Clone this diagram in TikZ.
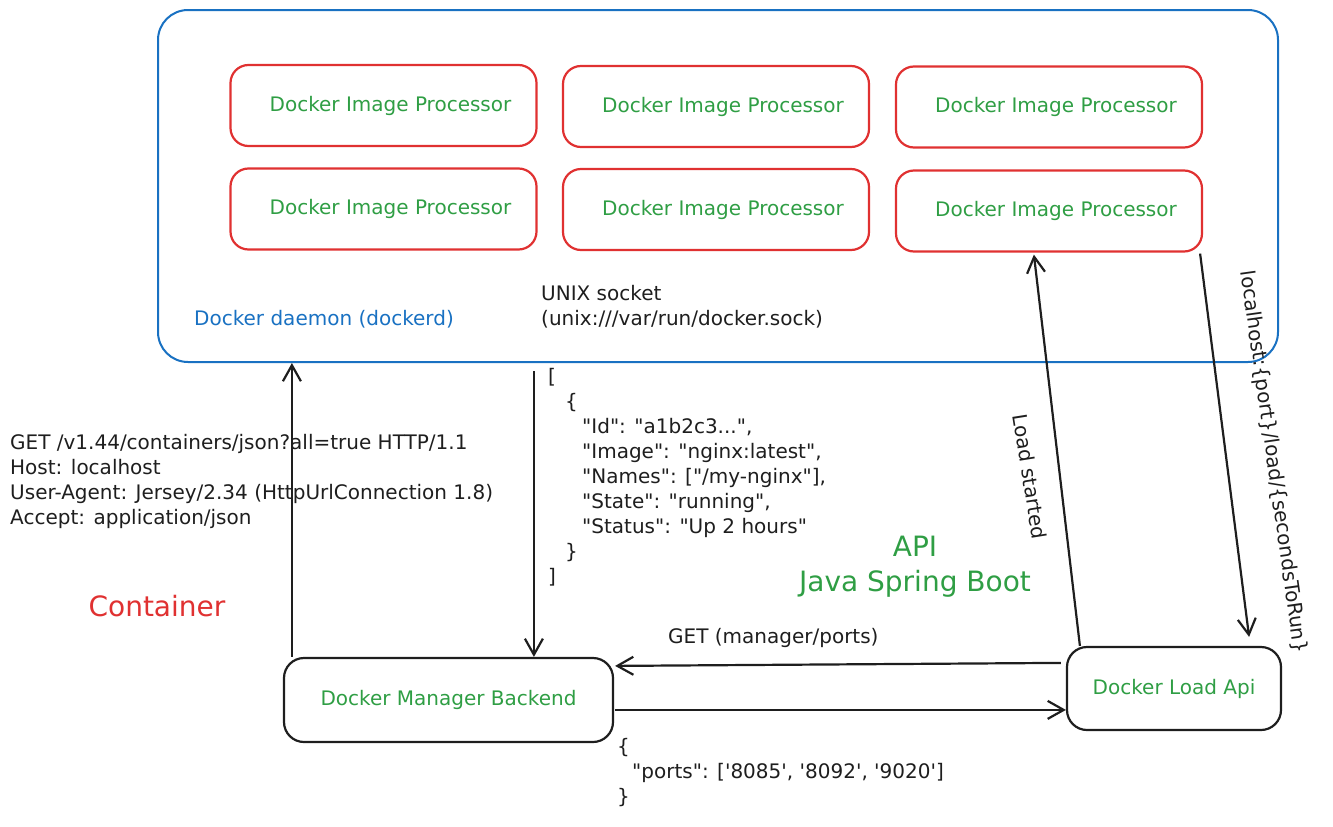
\documentclass[tikz,border=0pt]{standalone}
\usepackage{fontspec}
\newfontfamily\hand{DejaVu Sans}
\usetikzlibrary{arrows.meta,calc}
\definecolor{exblue}{HTML}{1971C2}
\definecolor{exred}{HTML}{E03131}
\definecolor{exgreen}{HTML}{2F9E44}
\definecolor{exblack}{HTML}{1E1E1E}
\begin{document}
\begin{tikzpicture}[x=1pt,y=-1pt,
  txt/.style={font=\hand\fontsize{20}{25}\selectfont, inner sep=0pt, text=exblack},
  big/.style={font=\hand\fontsize{28}{35}\selectfont, inner sep=0pt},
  procbox/.style={draw=exred, line width=2.2pt, rounded corners=18pt, minimum width=306pt, minimum height=81pt, inner sep=0pt, text=exgreen, font=\hand\fontsize{20}{25}\selectfont},
  blkbox/.style={draw=exblack, line width=2.2pt, rounded corners=20pt, inner sep=0pt, text=exgreen, font=\hand\fontsize{20}{25}\selectfont},
  arr/.style={draw=exblack, line width=2.2pt, -{Straight Barb[length=16pt,width=18pt,line width=2.2pt]}}
]
\useasboundingbox (0,0) rectangle (1333,827);
% daemon
\node[draw=exblue, line width=2pt, rounded corners=30pt, minimum width=1120pt, minimum height=352pt, inner sep=0pt] (daemon) at (718,186) {};
\node[txt, text=exblue] (dlabel) at (324,319) {Docker daemon (dockerd)};
% processors
\node[procbox] (p1) at (383.5,105.5) {\hspace*{14pt}Docker Image Processor};
\node[procbox] (p2) at (716,106.5) {\hspace*{14pt}Docker Image Processor};
\node[procbox] (p3) at (1049,107) {\hspace*{14pt}Docker Image Processor};
\node[procbox] (p4) at (383.5,209) {\hspace*{14pt}Docker Image Processor};
\node[procbox] (p5) at (716,209.5) {\hspace*{14pt}Docker Image Processor};
\node[procbox] (p6) at (1049,211) {\hspace*{14pt}Docker Image Processor};
% unix socket
\node[txt, anchor=north west, align=left] (unix) at (541,285) {UNIX socket\\(unix:///var/run/docker.sock)};
% bottom boxes
\node[blkbox, minimum width=329pt, minimum height=84pt] (mgr) at (448.5,700) {Docker Manager Backend};
\node[blkbox, minimum width=214pt, minimum height=83pt] (load) at (1174,688.5) {Docker Load Api};
% texts
\node[txt, anchor=north west, align=left] (req) at (10,434) {GET /v1.44/containers/json?all=true HTTP/1.1\\Host: localhost\\User-Agent: Jersey/2.34 (HttpUrlConnection 1.8)\\Accept: application/json};
\node[txt, anchor=north west, align=left] (resp) at (548,368) {[\\\hspace*{17pt}\{\\\hspace*{34pt}"Id": "a1b2c3...",\\\hspace*{34pt}"Image": "nginx:latest",\\\hspace*{34pt}"Names": ["/my-nginx"],\\\hspace*{34pt}"State": "running",\\\hspace*{34pt}"Status": "Up 2 hours"\\\hspace*{17pt}\}\\]};
\node[big, text=exred] (cont) at (157,606) {Container};
\node[big, text=exgreen, align=center] (api) at (915,567) {API\\Java Spring Boot};
\node[txt, anchor=north west, align=left] (ports) at (617,738) {\{\\\hspace*{15pt}"ports": ['8085', '8092', '9020']\\\}};
% connectors
\coordinate (a1s) at ([xshift=9pt]mgr.north west);
\coordinate (a1e) at (a1s |- daemon.south);
\draw[arr] (a1s) -- (a1e);
\coordinate (a2e) at ($(mgr.north west)+(251,0)$);
\coordinate (a2s) at ($(a2e |- daemon.south)+(0,8)$);
\draw[arr] (a2s) -- (a2e);
\coordinate (g1s) at ($(load.north west)+(-5,17)$);
\coordinate (g1e) at ($(mgr.north east)+(1,9)$);
\draw[arr] (g1s) -- node[txt, above=16pt, pos=0.645] (getlbl) {GET (manager/ports)} (g1e);
\coordinate (g2s) at ($(mgr.north east)+(1,53)$);
\coordinate (g2e) at (g2s -| load.west);
\draw[arr] (g2s) -- (g2e);
\coordinate (l1s) at ($(load.north west)+(14,0)$);
\coordinate (l1e) at ($(p6.south west)+(139,2)$);
\draw[arr] (l1s) -- (l1e);
\node[txt, rotate=-81] (lslbl) at (1030,477) {Load started};
\coordinate (l2s) at ($(p6.south east)+(-3,1)$);
\coordinate (l2e) at ($(load.north east)+(-33,-9)$);
\draw[arr] (l2s) -- (l2e);
\node[txt, rotate=-82] (urllbl) at (1273,462) {localhost:\{port\}/load/\{secondsToRun\}};
\end{tikzpicture}
\end{document}
